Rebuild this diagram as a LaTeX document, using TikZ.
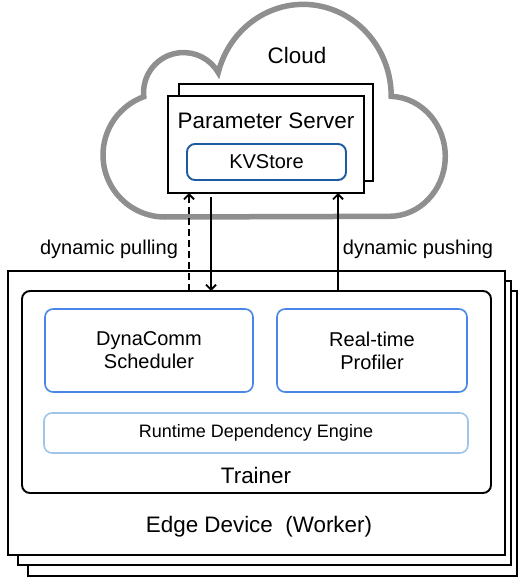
\documentclass[tikz,border=0pt]{standalone}
\usepackage{fontspec}
\setmainfont{Liberation Sans}
\usetikzlibrary{arrows.meta}
\definecolor{cloudgray}{HTML}{8F8F8F}
\definecolor{midblue}{HTML}{4A86E8}
\definecolor{lightblue}{HTML}{9FC5E8}
\definecolor{darkblue}{HTML}{1C5BA0}
\begin{document}
\begin{tikzpicture}[x=1pt,y=1pt,
  box/.style={draw=black,line width=1.9pt,fill=white,rectangle,outer sep=0pt,inner sep=0pt},
  rbox/.style={draw,line width=1.9pt,fill=white,rectangle,rounded corners=8pt,outer sep=0pt,inner sep=0pt,align=center},
  lbl/.style={inner sep=0pt,align=center},
  big/.style={font=\fontsize{22.4}{26}\selectfont},
  mid/.style={font=\fontsize{20}{23}\selectfont},
  small/.style={font=\fontsize{18}{21}\selectfont},
  conn/.style={line width=1.8pt,-{Straight Barb[length=5pt,width=10pt,line width=1.8pt]}},
  cloudline/.style={draw=cloudgray,line width=5.5pt}
]
\useasboundingbox (0,0) rectangle (521,-580);
% cloud
\draw[cloudline,fill=white] (165,-217)
  arc[start angle=270,end angle=110,radius=62]
  arc[start angle=186,end angle=30,radius=40]
  arc[start angle=165,end angle=0,x radius=88,y radius=92]
  arc[start angle=88,end angle=-90,x radius=56,y radius=60]
  -- cycle;
\node[lbl,big] (cloudlbl) at (297,-55) {Cloud};
% parameter server
\node[box,minimum width=194pt,minimum height=97pt] (ps2) at (276,-132.5) {};
\node[box,minimum width=196pt,minimum height=97pt] (ps1) at (266,-144.5) {};
\node[lbl,big] (pslbl) at (266,-121) {Parameter Server};
\node[rbox,draw=darkblue,minimum width=159pt,minimum height=36pt,mid] (kv) at (266.5,-162) {KVStore};
% edge devices
\node[box,minimum width=489pt,minimum height=285pt] (edge3) at (272.5,-433.5) {};
\node[box,minimum width=493pt,minimum height=284pt] (edge2) at (264.5,-423) {};
\node[box,minimum width=497pt,minimum height=284pt] (edge1) at (256.5,-413) {};
\node[lbl,big] (edgelbl) at (259,-527) {Edge Device\ \ (Worker)};
% trainer
\node[rbox,draw=black,minimum width=469pt,minimum height=202pt] (trainer) at (256.5,-392) {};
\node[lbl,big] (trainerlbl) at (256,-475) {Trainer};
\node[rbox,draw=midblue,line width=1.6pt,minimum width=208pt,minimum height=83pt,mid] (dyna) at (149,-350.5) {DynaComm\\Scheduler};
\node[rbox,draw=midblue,line width=1.6pt,minimum width=190pt,minimum height=83pt,mid] (prof) at (372,-350.5) {Real-time\\Profiler};
\node[rbox,draw=lightblue,line width=1.6pt,minimum width=424pt,minimum height=40pt,small] (rde) at (256,-433) {Runtime Dependency Engine};
% connectors
\coordinate (xpull) at (189,0);
\coordinate (xdown) at (211,0);
\coordinate (xpush) at (338,0);
\draw[conn,dash pattern=on 7pt off 4pt] (trainer.north -| xpull) -- (ps1.south -| xpull);
\draw[conn] (ps1.south -| xdown) ++(0,-4) -- (trainer.north -| xdown);
\draw[conn] (trainer.north -| xpush) -- (ps1.south -| xpush);
\node[lbl,mid] (pull) at (109,-249) {dynamic pulling};
\node[lbl,mid] (push) at (418,-249) {dynamic pushing};
\end{tikzpicture}
\end{document}
